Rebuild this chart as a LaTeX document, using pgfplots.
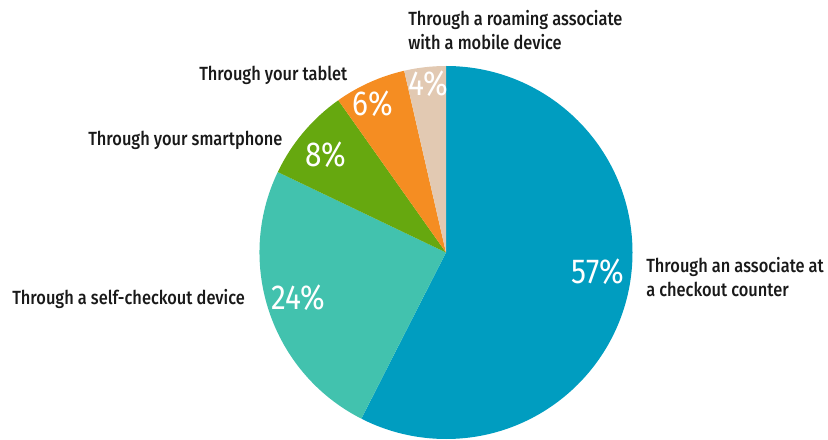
\documentclass[border=0pt]{standalone}
\usepackage{pgfplots}
\usepackage{pgfplotstable}
\pgfplotsset{compat=1.18}
\usepackage{fontspec}
\setmainfont{Fira Sans}[FakeStretch=0.86, BoldFont={Fira Sans Medium}]
\definecolor{cBlue}{HTML}{009DC0}
\definecolor{cTeal}{HTML}{42C2AE}
\definecolor{cGreen}{HTML}{66A80F}
\definecolor{cOrange}{HTML}{F58D22}
\definecolor{cBeige}{HTML}{E2C9B2}
\pgfplotstableread{
v col
57.5 cBlue
24.6 cTeal
8.1 cGreen
6.2 cOrange
3.6 cBeige
}\piedata
\begin{document}
\begin{tikzpicture}[
  lab/.style={font=\fontsize{14.3}{18.5}\selectfont\bfseries, text=black!90, inner sep=0pt, anchor=west, align=left},
  pct/.style={font=\fontsize{26}{28}\selectfont, text=white, inner sep=0pt}
]
\begin{axis}[
  x=0.75pt, y=0.75pt,
  xmin=0, xmax=828, ymin=0, ymax=439,
  hide axis, clip=false
]
\path (axis cs:0,0) rectangle (axis cs:828,439);
\def\startang{90}
\pgfplotsforeachungrouped \i in {0,...,4}{%
  \pgfplotstablegetelem{\i}{v}\of\piedata \let\val\pgfplotsretval
  \pgfplotstablegetelem{\i}{col}\of\piedata \let\colname\pgfplotsretval
  \pgfmathsetmacro\endang{\startang-3.6*\val}%
  \edef\temp{\noexpand\fill[\colname] (axis cs:446,186.5) -- ++(\startang:139.875pt) arc[start angle=\startang, end angle=\endang, radius=139.875pt] -- cycle;}%
  \temp
  \global\let\startang\endang
}
% percentage labels
\node[pct] at (axis cs:598,167) {57\%};
\node[pct] at (axis cs:298,141) {24\%};
\node[pct] at (axis cs:326,284) {8\%};
\node[pct] at (axis cs:373,335) {6\%};
\node[pct] at (axis cs:428,355) {4\%};
% category labels
\node[lab] at (axis cs:408,409) {Through a roaming associate\\with a mobile device};
\node[lab] at (axis cs:199,364) {Through your tablet};
\node[lab] at (axis cs:88,299) {Through your smartphone};
\node[lab] at (axis cs:12,140) {Through a self-checkout device};
\node[lab] at (axis cs:646,162) {Through an associate at\\a checkout counter};
\end{axis}
\end{tikzpicture}
\end{document}
